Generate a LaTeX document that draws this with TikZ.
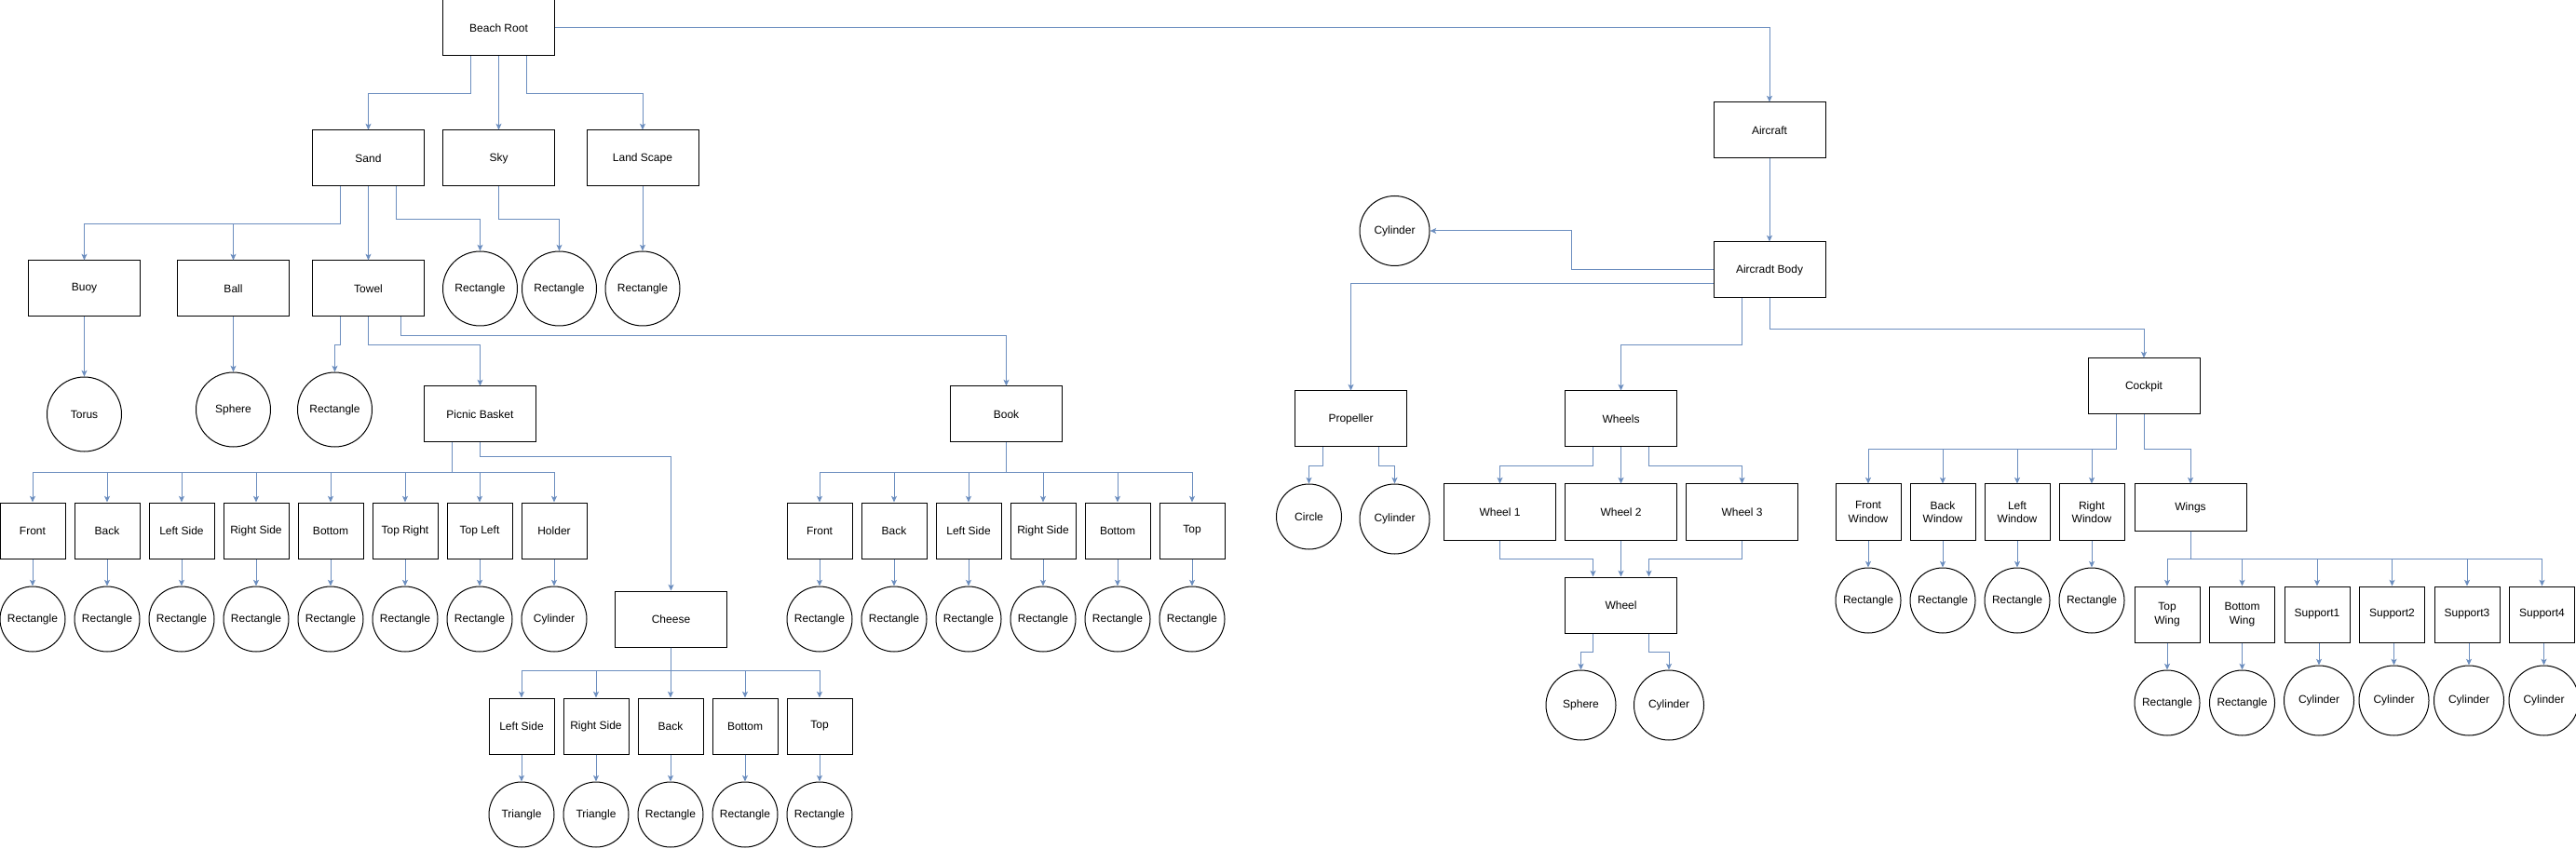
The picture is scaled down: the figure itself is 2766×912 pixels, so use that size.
\documentclass[tikz,border=0pt]{standalone}
\usepackage{fontspec}
\setmainfont{Liberation Sans}
\usetikzlibrary{arrows.meta}
\usetikzlibrary{calc}
\definecolor{linkblue}{RGB}{108,142,191}
\tikzset{
  box/.style={draw, line width=0.75pt, minimum width=90pt, minimum height=45pt, inner sep=0pt, align=center},
  part/.style={box, minimum width=52.5pt},
  flat/.style={box, minimum height=37.5pt},
  geo/.style={draw, circle, line width=0.75pt, minimum size=60pt, inner sep=0pt},
  geosmall/.style={geo, minimum size=52.5pt},
  geomid/.style={geo, minimum size=56.25pt},
  link/.style={draw=linkblue, line width=0.75pt, -{Stealth[length=5pt, width=4.5pt, inset=1.2pt]}}
}

\begin{document}
\begin{tikzpicture}[x=0.75pt, y=-0.75pt, font=\fontsize{9pt}{10.8pt}\selectfont]
  \useasboundingbox (0,0) rectangle (2766,912);
  \node[box] (root) at (535.5,30) {Beach Root};
  \node[box] (sand) at (395.5,170) {Sand};
  \node[box] (sky) at (535.5,170) {Sky};
  \node[box] (land) at (690,170) {Land Scape};
  \node[box] (buoy) at (90.5,310) {Buoy};
  \node[box] (ball) at (250.5,310) {Ball};
  \node[box] (towel) at (395.5,310) {Towel};
  \node[geo] (sandrect) at (515.5,310) {Rectangle};
  \node[geo] (skyrect) at (600.5,310) {Rectangle};
  \node[geo] (landrect) at (690,310) {Rectangle};
  \node[geo] (torus) at (90.5,445) {Torus};
  \node[geo] (sphere) at (250.5,440) {Sphere};
  \node[geo] (towelrect) at (359.5,440) {Rectangle};
  \node[box] (basket) at (515.5,445) {Picnic Basket};
  \node[box] (book) at (1080.5,445) {Book};
  \node[box] (cheese) at (720.5,665) {Cheese};

  \draw[link] ($(root.south)+(-30,0)$) -- ++(0,40) -| (sand.north);
  \draw[link] (root) -- (sky);
  \draw[link] ($(root.south)+(30,0)$) -- ++(0,40) -| (land.north);
  \draw[link] ($(sand.south)+(-30,0)$) -- ++(0,40) -| (buoy.north);
  \draw[link] ($(sand.south)+(-30,0)$) -- ++(0,40) -| (ball.north);
  \draw[link] (sand) -- (towel);
  \draw[link] ($(sand.south)+(30,0)$) -- ++(0,35) -| (sandrect.north);
  \draw[link] (sky.south) -- ++(0,35) -| (skyrect.north);
  \draw[link] (land) -- (landrect);
  \draw[link] (buoy) -- (torus);
  \draw[link] (ball) -- (sphere);
  \draw[link] ($(towel.south)+(-30,0)$) -- ++(0,30) -| (towelrect.north);
  \draw[link] (towel.south) -- ++(0,30) -| (basket.north);
  \draw[link] ($(towel.south)+(35,0)$) -- ++(0,20) -| (book.north);
  \draw[link] (basket.south) -- ++(0,15) -| (cheese.north);

  \foreach \nm/\tx/\pr [count=\i from 0] in {pfront/Front/Rectangle, pback/Back/Rectangle,
      pleft/Left Side/Rectangle, pright/Right Side/Rectangle, pbottom/Bottom/Rectangle,
      ptopr/Top Right/Rectangle, ptopl/Top Left/Rectangle, pholder/Holder/Cylinder} {
    \node[part] (\nm) at (35+80*\i,570) {\tx};
    \node[geosmall] (\nm-c) at (35+80*\i,665) {\pr};
    \draw[link] ($(basket.south)+(-30,0)$) -- ++(0,32.5) -| (\nm.north);
    \draw[link] (\nm) -- (\nm-c);
  }
  \foreach \nm/\tx [count=\i from 0] in {bfront/Front, bback/Back, bleft/Left Side,
      bright/Right Side, bbottom/Bottom, btop/Top} {
    \node[part] (\nm) at (880+80*\i,570) {\tx};
    \node[geosmall] (\nm-c) at (880+80*\i,665) {Rectangle};
    \draw[link] (book.south) -- ++(0,32.5) -| (\nm.north);
    \draw[link] (\nm) -- (\nm-c);
  }
  \foreach \nm/\tx/\pr [count=\i from 0] in {cleft/Left Side/Triangle, cright/Right Side/Triangle,
      cback/Back/Rectangle, cbottom/Bottom/Rectangle, ctop/Top/Rectangle} {
    \node[part] (\nm) at (560+80*\i,780) {\tx};
    \node[geosmall] (\nm-c) at (560+80*\i,875) {\pr};
    \draw[link] (cheese.south) -- ++(0,25) -| (\nm.north);
    \draw[link] (\nm) -- (\nm-c);
  }

  \node[box] (aircraft) at (1900,140) {Aircraft};
  \node[box] (body) at (1900,290) {Aircradt Body};
  \node[geomid] (bodycyl) at (1497.5,248) {Cylinder};
  \node[box] (prop) at (1450.5,450) {Propeller};
  \node[box] (wheels) at (1740.5,450) {Wheels};
  \node[box] (cockpit) at (2302,415) {Cockpit};
  \node[geosmall] (propcircle) at (1405.5,555) {Circle};
  \node[geomid] (propcyl) at (1497.5,557.5) {Cylinder};
  \node[box] (wheel1) at (1610.5,550) {Wheel 1};
  \node[box] (wheel2) at (1740.5,550) {Wheel 2};
  \node[box] (wheel3) at (1870.5,550) {Wheel 3};
  \node[box] (wheel) at (1740.5,650) {Wheel};
  \node[geomid] (wsphere) at (1697.5,757.5) {Sphere};
  \node[geomid] (wcyl) at (1792,757.5) {Cylinder};
  \node[flat] (wings) at (2352,545) {Wings};

  \draw[link] (root.east) -| (aircraft.north);
  \draw[link] (aircraft) -- (body);
  \draw[link] (body.west) -- ++(-152,0) |- (bodycyl.east);
  \draw[link] ($(body.west)+(0,15)$) -| (prop.north);
  \draw[link] ($(body.south)+(-30,0)$) -- ++(0,50) -| (wheels.north);
  \draw[link] (body.south) -- ++(0,33) -| (cockpit.north);
  \draw[link] ($(prop.south)+(-30,0)$) -- ++(0,20) -| (propcircle.north);
  \draw[link] ($(prop.south)+(30,0)$) -- ++(0,20) -| (propcyl.north);
  \draw[link] ($(wheels.south)+(-30,0)$) -- ++(0,20) -| (wheel1.north);
  \draw[link] (wheels) -- (wheel2);
  \draw[link] ($(wheels.south)+(30,0)$) -- ++(0,20) -| (wheel3.north);
  \draw[link] (wheel1.south) -- ++(0,20) -| ($(wheel.north)+(-30,0)$);
  \draw[link] (wheel2) -- (wheel);
  \draw[link] (wheel3.south) -- ++(0,20) -| ($(wheel.north)+(30,0)$);
  \draw[link] ($(wheel.south)+(-30,0)$) -- ++(0,20) -| (wsphere.north);
  \draw[link] ($(wheel.south)+(30,0)$) -- ++(0,20) -| (wcyl.north);
  \draw[link] (cockpit.south) -- ++(0,37.5) -| (wings.north);

  \foreach \nm/\tx [count=\i from 0] in {wfront/Front\\Window, wback/Back\\Window,
      wleft/Left\\Window, wright/Right\\Window} {
    \node[part] (\nm) at (2006+80*\i,550) {\tx};
    \node[geosmall] (\nm-c) at (2006+80*\i,645) {Rectangle};
    \draw[link] ($(cockpit.south)+(-30,0)$) -- ++(0,37.5) -| (\nm.north);
    \draw[link] (\nm) -- (\nm-c);
  }
  \foreach \nm/\tx/\pr/\st/\dx/\cy [count=\i from 0] in {gtop/Top\\Wing/Rectangle/geosmall/0/755,
      gbottom/Bottom\\Wing/Rectangle/geosmall/0/755, gsup1/Support1/Cylinder/geomid/2/752.5,
      gsup2/Support2/Cylinder/geomid/2/752.5, gsup3/Support3/Cylinder/geomid/2/752.5,
      gsup4/Support4/Cylinder/geomid/2/752.5} {
    \node[part] (\nm) at (2327+80.5*\i,660) {\tx};
    \node[\st] (\nm-c) at (2327+80.5*\i+\dx,\cy) {\pr};
    \draw[link] (wings.south) -- ++(0,30) -| (\nm.north);
    \draw[link] (\nm-c.north |- \nm.south) -- (\nm-c.north);
  }
\end{tikzpicture}
\end{document}
